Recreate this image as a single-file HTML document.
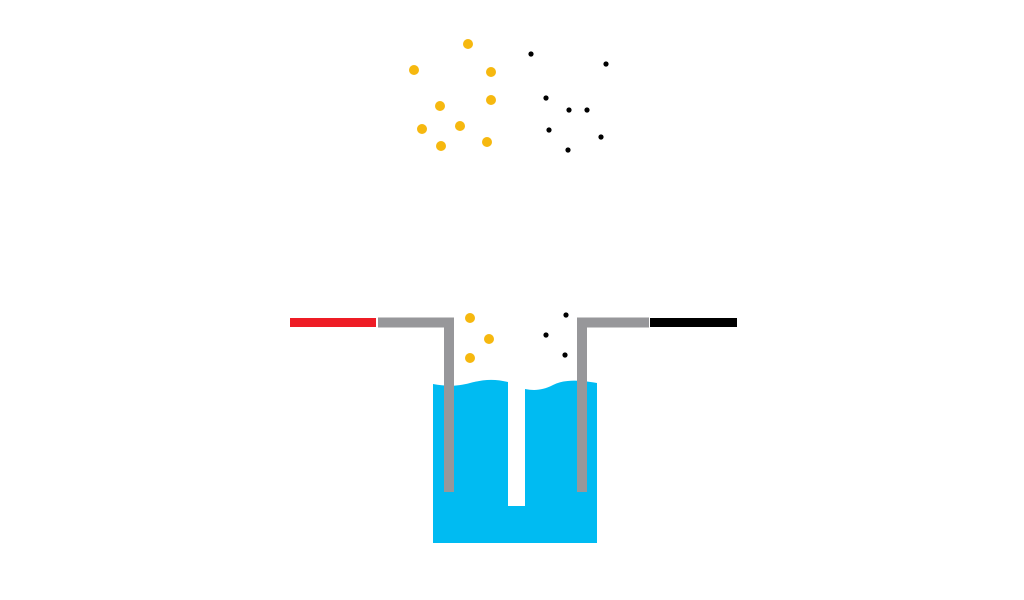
<!DOCTYPE html>
<html><head><style>html,body{margin:0;padding:0;background:#fff;width:1024px;height:600px;overflow:hidden}</style></head>
<body>
<svg width="1024" height="600" viewBox="0 0 1024 600" xmlns="http://www.w3.org/2000/svg">
<rect width="1024" height="600" fill="#fff"/>
<path d="M433,384 C445,386 455,387 470,383 C485,379 495,379 508,382 L508,506 L525,506 L525,389 C535,391 543,390 553,385 C565,379 580,380 597,383 L597,543 L433,543 Z" fill="#00bbf2"/>
<rect x="290" y="318" width="86" height="9" fill="#ee1c25"/>
<rect x="650" y="318" width="87" height="9" fill="#000"/>
<path d="M378,322.5 H449 V492" fill="none" stroke="#97979a" stroke-width="10"/>
<path d="M649,322.5 H582 V492" fill="none" stroke="#97979a" stroke-width="10"/>
<g fill="#f6b80f">
<circle cx="468" cy="44" r="5"/><circle cx="414" cy="70" r="5"/><circle cx="491" cy="72" r="5"/>
<circle cx="440" cy="106" r="5"/><circle cx="491" cy="100" r="5"/><circle cx="422" cy="129" r="5"/>
<circle cx="460" cy="126" r="5"/><circle cx="441" cy="146" r="5"/><circle cx="487" cy="142" r="5"/>
<circle cx="470" cy="318" r="5"/><circle cx="489" cy="339" r="5"/><circle cx="470" cy="358" r="5"/>
</g>
<g fill="#000">
<circle cx="531" cy="54" r="2.6"/><circle cx="606" cy="64" r="2.6"/><circle cx="546" cy="98" r="2.6"/>
<circle cx="569" cy="110" r="2.6"/><circle cx="587" cy="110" r="2.6"/><circle cx="549" cy="130" r="2.6"/>
<circle cx="601" cy="137" r="2.6"/><circle cx="568" cy="150" r="2.6"/>
<circle cx="566" cy="315" r="2.6"/><circle cx="546" cy="335" r="2.6"/><circle cx="565" cy="355" r="2.6"/>
</g>
</svg>
</body></html>
